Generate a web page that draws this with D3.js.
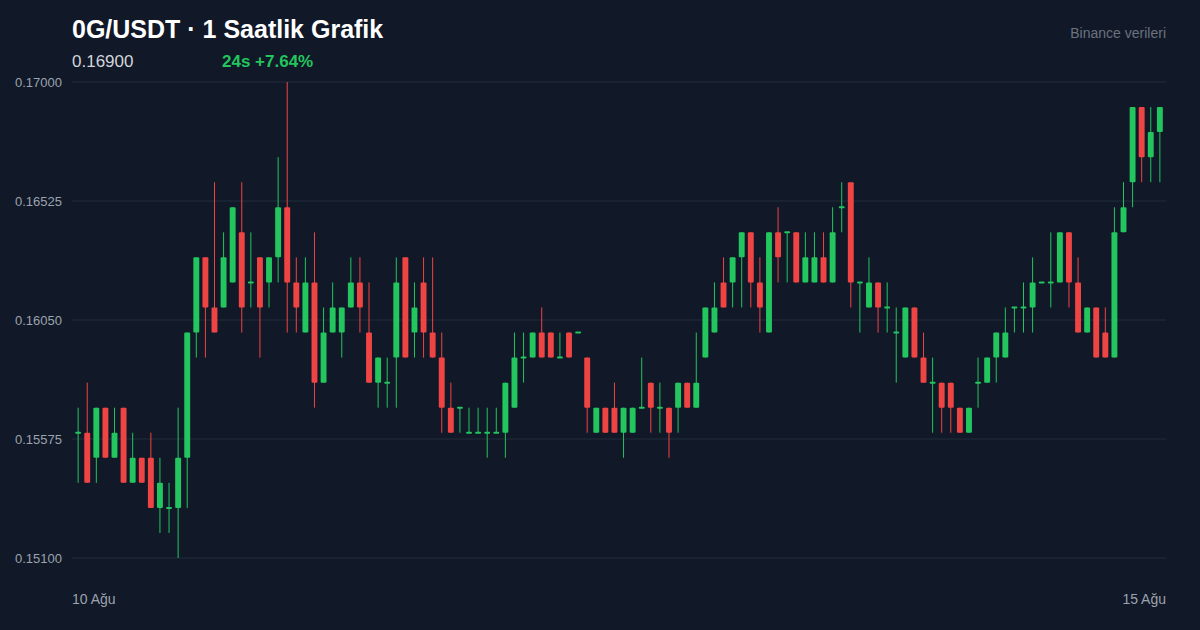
<!DOCTYPE html>
<html><head><meta charset="utf-8">
<script src="https://cdn.jsdelivr.net/npm/d3@7"></script>
<style>
html,body{margin:0;padding:0;background:#111827;}
svg{display:block;font-family:"Liberation Sans",Arial,Helvetica,sans-serif;}
</style></head>
<body><svg id="c" width="1200" height="630"></svg>
<script>
// OHLC per hour (120 candles)
const opens  = [.156,.156,.155,.157,.155,.157,.154,.155,.155,.153,.153,.153,.155,.160,.163,.161,.161,.162,.164,.162,.163,.162,.163,.165,.162,.160,.162,.158,.160,.160,.161,.162,.160,.158,.158,.159,.163,.160,.162,.160,.159,.157,.157,.156,.156,.156,.156,.156,.157,.159,.159,.160,.160,.159,.160,.160,.159,.156,.157,.157,.156,.156,.157,.158,.157,.157,.157,.158,.157,.159,.160,.162,.162,.163,.164,.162,.160,.164,.164,.164,.162,.162,.163,.162,.165,.166,.162,.161,.162,.161,.160,.159,.161,.159,.158,.158,.158,.157,.156,.158,.158,.159,.159,.161,.161,.161,.162,.162,.162,.164,.162,.160,.161,.160,.159,.164,.166,.169,.167,.168];
const highs  = [.157,.158,.157,.157,.157,.157,.156,.155,.156,.155,.154,.157,.160,.163,.163,.166,.164,.165,.166,.164,.163,.163,.167,.170,.163,.163,.164,.161,.162,.161,.163,.163,.162,.159,.159,.163,.163,.162,.163,.163,.160,.158,.157,.157,.157,.157,.157,.158,.160,.160,.160,.161,.160,.160,.160,.160,.159,.157,.157,.158,.157,.157,.159,.158,.158,.157,.158,.158,.160,.161,.162,.163,.163,.164,.164,.163,.164,.165,.164,.164,.164,.164,.164,.165,.166,.166,.162,.163,.162,.162,.161,.161,.161,.160,.159,.158,.158,.157,.157,.159,.159,.160,.161,.161,.162,.163,.162,.164,.164,.164,.163,.161,.161,.161,.165,.166,.169,.169,.169,.169];
const lows   = [.154,.154,.154,.155,.155,.154,.154,.154,.153,.152,.152,.151,.153,.159,.159,.160,.161,.162,.160,.161,.159,.161,.162,.160,.160,.160,.157,.158,.160,.159,.161,.160,.158,.157,.157,.157,.159,.159,.159,.159,.156,.156,.156,.156,.156,.155,.156,.155,.157,.158,.159,.159,.159,.159,.159,.160,.156,.156,.156,.156,.155,.156,.157,.156,.156,.155,.156,.157,.157,.159,.160,.161,.161,.161,.161,.160,.160,.162,.162,.162,.162,.162,.162,.162,.164,.161,.160,.161,.160,.160,.158,.159,.159,.158,.156,.156,.156,.156,.156,.157,.158,.158,.159,.160,.160,.160,.162,.161,.162,.161,.160,.160,.159,.159,.159,.164,.165,.166,.166,.166];
const closes = [.156,.154,.157,.155,.156,.154,.155,.154,.153,.154,.153,.155,.160,.163,.161,.160,.163,.165,.161,.162,.161,.163,.165,.162,.161,.162,.158,.160,.161,.161,.162,.161,.158,.159,.158,.162,.159,.161,.160,.159,.157,.156,.157,.156,.156,.156,.156,.158,.159,.159,.160,.159,.159,.159,.159,.160,.157,.157,.156,.156,.157,.157,.157,.157,.157,.156,.158,.157,.158,.161,.161,.161,.163,.164,.162,.161,.164,.163,.164,.162,.163,.163,.162,.164,.165,.162,.162,.162,.161,.161,.160,.161,.159,.158,.158,.157,.157,.156,.157,.158,.159,.160,.160,.161,.161,.162,.162,.162,.164,.162,.160,.161,.159,.159,.164,.165,.169,.167,.168,.169];
const yTicks = [0.151, 0.15575, 0.1605, 0.16525, 0.17];
const dateLabels = ["10 Ağu", "15 Ağu"];
const title = "0G/USDT · 1 Saatlik Grafik";
const lastPrice = "0.16900";
const change = "24s +7.64%";
const source = "Binance verileri";

const candles = opens.map((o,i)=>({i, o, h:highs[i], l:lows[i], c:closes[i]}));
const svg = d3.select("#c");
svg.append("rect").attr("width",1200).attr("height",630).attr("fill","#111827");

const L = 72, R = 1166, T = 82, B = 558;
const x = d3.scaleBand().domain(d3.range(candles.length)).range([L,R]).padding(0.35);
const y = d3.scaleLinear().domain([0.151,0.17]).range([B,T]);

// grid + y labels
const g = svg.append("g");
g.selectAll("line.grid").data(yTicks).join("line")
  .attr("x1",L).attr("x2",R).attr("y1",d=>y(d)).attr("y2",d=>y(d))
  .attr("stroke","#222c3b").attr("stroke-width",1);
g.selectAll("text.yl").data(yTicks).join("text")
  .attr("x",15).attr("y",d=>y(d)).attr("dy","0.35em")
  .attr("fill","#9ca3af").attr("font-size",13).text(d=>d.toFixed(5));

const green = "#22c55e", red = "#ef4444";
const col = d => d.c >= d.o ? green : red;
const cg = svg.append("g");
cg.selectAll("line.w").data(candles).join("line")
  .attr("x1",d=>x(d.i)+x.bandwidth()/2).attr("x2",d=>x(d.i)+x.bandwidth()/2)
  .attr("y1",d=>y(d.h)).attr("y2",d=>y(d.l))
  .attr("stroke",col).attr("stroke-width",1);
cg.selectAll("rect.b").data(candles).join("rect")
  .attr("x",d=>x(d.i)).attr("width",x.bandwidth())
  .attr("y",d=>{const t=y(Math.max(d.o,d.c)), b=y(Math.min(d.o,d.c)); return b-t<2 ? (t+b)/2-1 : t;})
  .attr("height",d=>Math.max(2, y(Math.min(d.o,d.c))-y(Math.max(d.o,d.c))))
  .attr("rx",1).attr("fill",col);

// header
svg.append("text").attr("x",72).attr("y",38).attr("fill","#ffffff")
  .attr("font-size",25).attr("font-weight","bold").text(title);
svg.append("text").attr("x",72).attr("y",67).attr("fill","#d1d5db")
  .attr("font-size",17).text(lastPrice);
svg.append("text").attr("x",222).attr("y",67).attr("fill",green)
  .attr("font-size",17).attr("font-weight","bold").text(change);
svg.append("text").attr("x",1166).attr("y",38).attr("text-anchor","end")
  .attr("fill","#6b7280").attr("font-size",14).text(source);

// date labels
svg.append("text").attr("x",L).attr("y",604).attr("fill","#9ca3af")
  .attr("font-size",14).text(dateLabels[0]);
svg.append("text").attr("x",R).attr("y",604).attr("text-anchor","end").attr("fill","#9ca3af")
  .attr("font-size",14).text(dateLabels[1]);
</script></body></html>
